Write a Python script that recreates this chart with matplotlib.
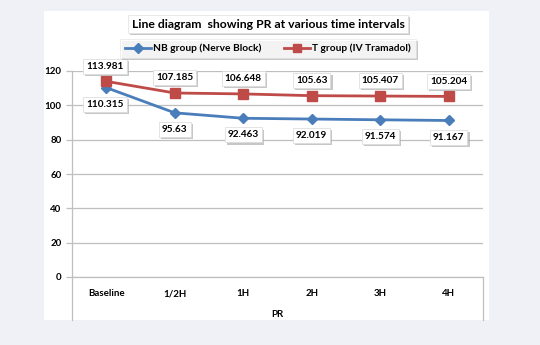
import matplotlib
matplotlib.use("Agg")
import matplotlib.pyplot as plt
from matplotlib.patches import Rectangle
from matplotlib.lines import Line2D
from matplotlib import patheffects as pe

plt.rcParams['font.family'] = ['Lato', 'DejaVu Sans']
plt.rcParams['font.weight'] = 'bold'

categories = ["Baseline", "1/2H", "1H", "2H", "3H", "4H"]
nb_group = [110.315, 95.63, 92.463, 92.019, 91.574, 91.167]
t_group = [113.981, 107.185, 106.648, 105.63, 105.407, 105.204]
nb_name = "NB group (Nerve Block)"
t_name = "T group (IV Tramadol)"
title = "Line diagram  showing PR at various time intervals"
xlabel = "PR"
yticks = [0, 20, 40, 60, 80, 100, 120]

W, H = 540, 345
fig = plt.figure(figsize=(W / 100, H / 100), dpi=100)
fig.patch.set_facecolor('#eff1f6')

# white chart panel
fig.patches.append(Rectangle((44 / W, 1 - 320 / H), (489 - 44) / W, (320 - 11) / H,
                             transform=fig.transFigure, facecolor='white',
                             edgecolor='none', zorder=-10))

ax = fig.add_axes([72 / W, 1 - 277 / H, (483 - 72) / W, (277 - 71) / H])
ax.set_zorder(1)
ax.set_facecolor('white')
x = list(range(len(categories)))

blue = '#4a7ebb'
red = '#be4b48'
grid_c = '#bfbfbf'

ax.plot(x, nb_group, color=blue, lw=2, marker='D', ms=5.5, zorder=3, clip_on=False)
ax.plot(x, t_group, color=red, lw=2, marker='s', ms=6.5, zorder=3, clip_on=False)

ax.set_xlim(-0.5, len(categories) - 0.5)
ax.set_ylim(0, 120)
ax.set_yticks(yticks)
ax.set_yticklabels([str(v) for v in yticks], fontsize=7, fontweight='bold')
ax.yaxis.grid(True, color=grid_c, lw=0.9)
ax.set_axisbelow(True)
ax.tick_params(axis='y', length=4.5, color=grid_c, width=0.9, pad=3)
ax.set_xticks(x)
ax.set_xticklabels(categories, fontsize=7, fontweight='bold')
ax.tick_params(axis='x', length=0, pad=9)
ax.set_xlabel(xlabel, fontsize=7, fontweight='bold', labelpad=8)
for s in ['top', 'right']:
    ax.spines[s].set_visible(False)
for s in ['left', 'bottom']:
    ax.spines[s].set_color(grid_c)
    ax.spines[s].set_linewidth(0.9)

# category axis side lines below the plot
for xp in (72, 483):
    fig.add_artist(Line2D([xp / W, xp / W], [1 - 277 / H, 1 - 320 / H],
                          transform=fig.transFigure, color=grid_c, lw=0.9))

shadow = [pe.SimplePatchShadow(offset=(1.5, -1.5), shadow_rgbFace='#b0b0b0', alpha=0.7),
          pe.Normal()]


def boxed(xy, text, offset, fs=7.2):
    t = ax.annotate(text, xy=xy, xytext=offset, xycoords='data', textcoords='offset points',
                    ha='center', va='center', fontsize=fs, fontweight='bold',
                    annotation_clip=False, color='black', zorder=5,
                    bbox=dict(boxstyle='square,pad=0.3', fc='white', ec='#d9d9d9', lw=0.5))
    t.get_bbox_patch().set_path_effects(shadow)


for i, v in enumerate(t_group):
    boxed((i, v), f"{v:g}", (-1 if i == 0 else 0, 11))
for i, v in enumerate(nb_group):
    boxed((i, v), f"{v:g}", (-1 if i == 0 else 0, -12))

# title box with shadow
tt = fig.text(268 / W, 1 - 24 / H, title, ha='center', va='center', fontsize=8.8,
              fontweight='bold',
              bbox=dict(boxstyle='square,pad=0.3', fc='white', ec='#e0e0e0', lw=0.5))
tt.get_bbox_patch().set_path_effects(shadow)

handles = [Line2D([], [], color=blue, lw=2, marker='D', ms=5),
           Line2D([], [], color=red, lw=2, marker='s', ms=6)]
leg = fig.legend(handles, [nb_name, t_name], loc='center', bbox_to_anchor=(268 / W, 1 - 48.5 / H),
                 ncol=2, frameon=True, fancybox=False, shadow=False,
                 handlelength=2.6, handletextpad=0.2, columnspacing=2.2,
                 borderpad=0.45, borderaxespad=0, prop={'weight': 'bold', 'size': 7.3})
frame = leg.get_frame()
frame.set_edgecolor('#e0e0e0')
frame.set_linewidth(0.5)
frame.set_path_effects(shadow)

fig.savefig("out.png", dpi=100, facecolor=fig.get_facecolor())
